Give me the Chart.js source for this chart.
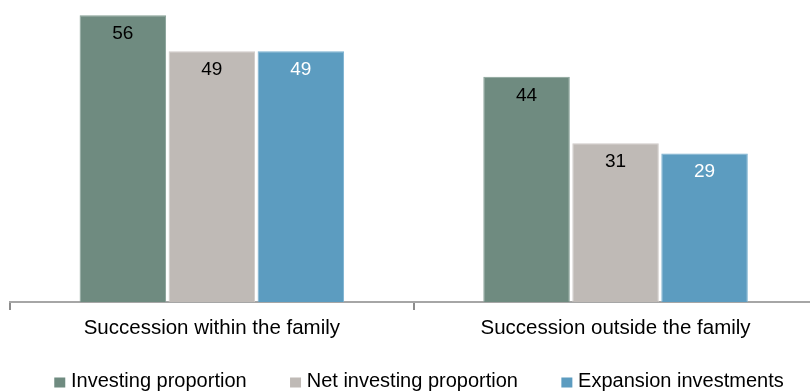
<!DOCTYPE html>
<html><head><meta charset="utf-8">
<script src="https://cdn.jsdelivr.net/npm/chart.js@4.4.0/dist/chart.umd.min.js"></script>
<style>
html,body{margin:0;padding:0;overflow:hidden;background:#fff;width:810px;height:392px}
#wrap{position:absolute;left:0;top:0;width:838px;height:392px}
</style>
</head><body><div id="wrap"><canvas id="c" width="838" height="392"></canvas></div>
<script>
const categories = ['Succession within the family', 'Succession outside the family'];
const seriesNames = ['Investing proportion', 'Net investing proportion', 'Expansion investments'];
const investingProportion = [56, 44];
const netInvestingProportion = [49, 31];
const expansionInvestments = [49, 29];

const FONT = '"Liberation Sans", Arial, Helvetica, sans-serif';
const fills = ['#6f8b80', '#bfbab6', '#5c9cc0'];
const edges = ['#86a096', '#cfcbc8', '#79b0cf'];
const labelColors = ['#000000', '#000000', '#ffffff'];

const valueLabels = {
  id: 'valueLabels',
  afterDatasetsDraw(chart) {
    const ctx = chart.ctx;
    ctx.save();
    ctx.font = '19px ' + FONT;
    ctx.textAlign = 'center';
    ctx.textBaseline = 'middle';
    chart.data.datasets.forEach((ds, i) => {
      const meta = chart.getDatasetMeta(i);
      meta.data.forEach((el, j) => {
        ctx.fillStyle = labelColors[i];
        ctx.fillText(String(ds.data[j]), el.x, el.y + 18.5);
      });
    });
    ctx.restore();
  }
};

const customLegend = {
  id: 'customLegend',
  afterDraw(chart) {
    const ctx = chart.ctx;
    ctx.save();
    ctx.font = '20px ' + FONT;
    const box = 11, boxH = 10, gapText = 5.7, gapItem = 43.4;
    const items = chart.data.datasets.map(ds => ({
      text: ds.label, color: ds.backgroundColor, w: ctx.measureText(ds.label).width
    }));
    const total = items.reduce((s, it) => s + box + gapText + it.w, 0) + gapItem * (items.length - 1);
    let x = chart.width / 2 - total / 2;
    const baseline = 387;
    items.forEach(it => {
      ctx.fillStyle = it.color;
      ctx.fillRect(x, 377.5, box, boxH);
      ctx.fillStyle = '#000000';
      ctx.textAlign = 'left';
      ctx.textBaseline = 'alphabetic';
      ctx.fillText(it.text, x + box + gapText, baseline);
      x += box + gapText + it.w + gapItem;
    });
    ctx.restore();
  }
};

const seriesData = [investingProportion, netInvestingProportion, expansionInvestments];

new Chart(document.getElementById('c'), {
  type: 'bar',
  data: {
    labels: categories,
    datasets: seriesNames.map((name, i) => ({
      label: name,
      data: seriesData[i],
      backgroundColor: fills[i],
      borderColor: edges[i],
      borderWidth: 1,
      barPercentage: 0.972,
      categoryPercentage: 0.6614
    }))
  },
  options: {
    responsive: false,
    animation: false,
    events: [],
    layout: { padding: { left: 10, right: 20.6, top: 0, bottom: 50 } },
    plugins: { legend: { display: false }, tooltip: { enabled: false } },
    scales: {
      y: { display: false, min: 0, max: 59 },
      x: {
        offset: true,
        grid: { display: true, offset: true, drawOnChartArea: false, drawTicks: true, tickLength: 8, color: '#8c8c8c', lineWidth: 2 },
        border: { display: true, color: '#a6a6a6', width: 2 },
        ticks: { color: '#000000', font: { family: FONT, size: 20.5 }, padding: 6, maxRotation: 0, autoSkip: false },
        afterFit(scale) { scale.height = 40; }
      }
    }
  },
  plugins: [valueLabels, customLegend]
});
</script>
</body></html>
